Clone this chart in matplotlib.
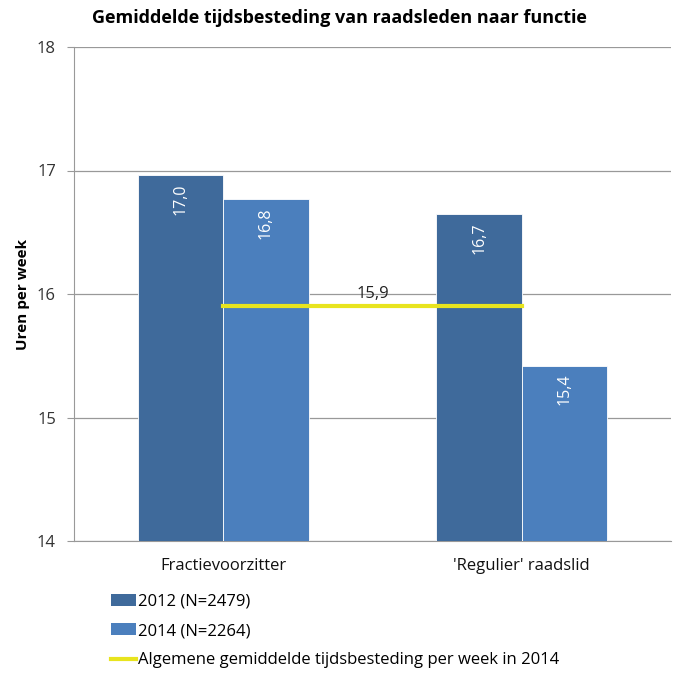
import matplotlib
matplotlib.use("Agg")
import matplotlib.pyplot as plt
from matplotlib.patches import Patch
from matplotlib.lines import Line2D
import numpy as np

categories = ["Fractievoorzitter", "'Regulier' raadslid"]
series_names = ["2012 (N=2479)", "2014 (N=2264)"]
values_2012 = [16.96, 16.65]
values_2014 = [16.77, 15.42]
labels_2012 = ["17,0", "16,7"]
labels_2014 = ["16,8", "15,4"]
overall_avg = 15.9
overall_label = "15,9"
line_name = "Algemene gemiddelde tijdsbesteding per week in 2014"
yticks = [14, 15, 16, 17, 18]

c2012 = "#3F6A9B"
c2014 = "#4B7FBD"
cline = "#E8E41E"

plt.rcParams['font.family'] = ['Open Sans', 'DejaVu Sans']

fig = plt.figure(figsize=(6.78, 6.73), dpi=100)
ax = fig.add_axes([74/678, 1-541/673, (671-74)/678, (541-47)/673])

x = np.arange(len(categories))
w = 0.286
b1 = ax.bar(x - w/2, np.array(values_2012) - 14, w, bottom=14, color=c2012,
            edgecolor="white", linewidth=0.6, zorder=3)
b2 = ax.bar(x + w/2, np.array(values_2014) - 14, w, bottom=14, color=c2014,
            edgecolor="white", linewidth=0.6, zorder=3)

for bars, vals, labs in [(b1, values_2012, labels_2012), (b2, values_2014, labels_2014)]:
    for bar, v, lab in zip(bars, vals, labs):
        ax.annotate(lab, (bar.get_x() + bar.get_width()/2, v), xytext=(0, -6),
                    textcoords="offset points", rotation=90, ha="center", va="top",
                    color="white", fontsize=11.5, zorder=5)

ax.plot(x, [overall_avg]*len(x), color=cline, linewidth=3, zorder=4)
ax.annotate(overall_label, (x.mean(), overall_avg), xytext=(0, 3), textcoords="offset points",
            ha="center", va="bottom", fontsize=12, color="#222222", zorder=5)

ax.set_xlim(-0.5, 1.5)
ax.set_ylim(14, 18)
ax.set_yticks(yticks)
ax.set_yticklabels([str(t) for t in yticks], fontsize=12, color="#333333")
ax.yaxis.grid(True, color="#999999", linewidth=0.9, zorder=0)
ax.set_axisbelow(True)
ax.set_xticks(x)
ax.set_xticklabels(categories, fontsize=12, color="#111111")
ax.tick_params(axis="x", length=0, pad=12)
ax.tick_params(axis="y", length=5, color="#999999", direction="out", pad=8)
for s in ["top", "right"]:
    ax.spines[s].set_visible(False)
ax.spines["left"].set_color("#999999")
ax.spines["bottom"].set_color("#999999")
ax.set_ylabel("Uren per week", fontsize=11, fontweight="bold", labelpad=5)

fig.text(0.5, 1-18/673, "Gemiddelde tijdsbesteding van raadsleden naar functie",
         ha="center", va="center", fontsize=13, fontweight="bold")

handles = [Patch(facecolor=c2012), Patch(facecolor=c2014),
           Line2D([0], [0], color=cline, linewidth=3)]
leg = fig.legend(handles, series_names + [line_name], loc="upper left",
                 bbox_to_anchor=(104/678, 1-587/673), frameon=False, fontsize=12,
                 handlelength=1.5, handletextpad=0.15, labelspacing=0.8, borderaxespad=0)

fig.savefig("out.png", dpi=100)
